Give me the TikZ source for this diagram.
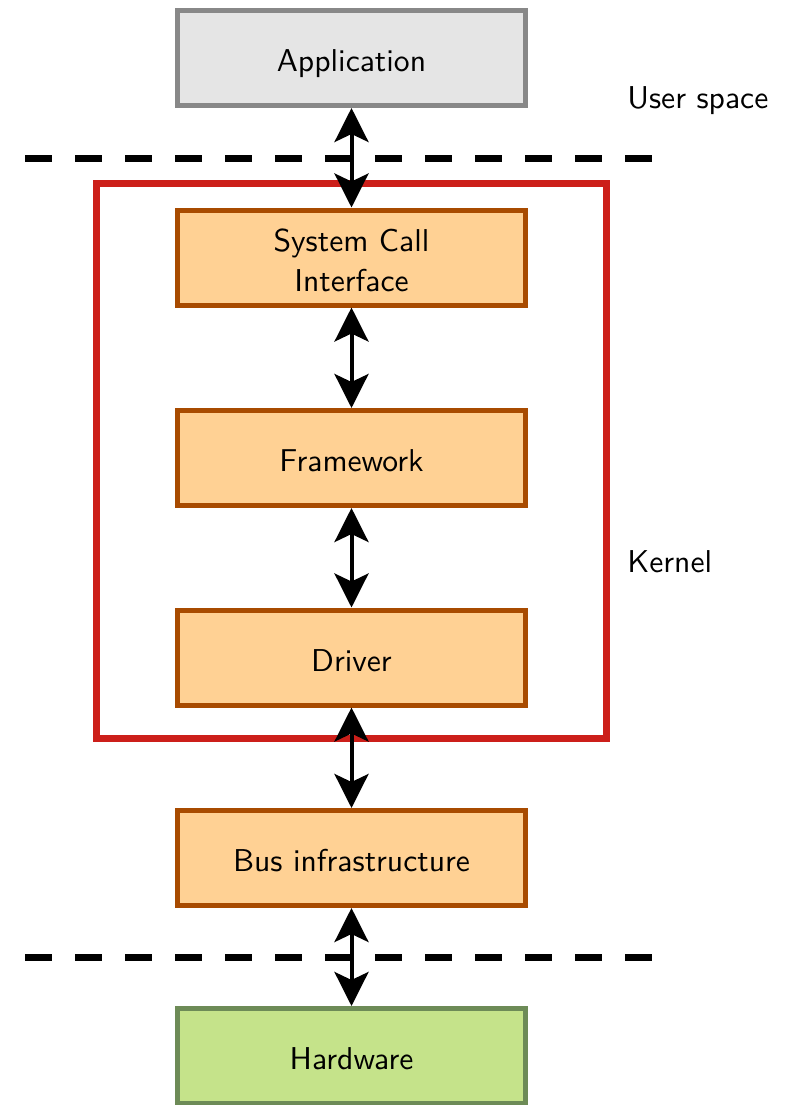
\documentclass[tikz,border=0pt]{standalone}
\usepackage{fontspec}
\usetikzlibrary{arrows.meta}
\newfontfamily\boxfont{lmsans10-regular.otf}
\definecolor{appfill}{HTML}{E5E5E5}
\definecolor{appdraw}{HTML}{888888}
\definecolor{kfill}{HTML}{FFD194}
\definecolor{kdraw}{HTML}{A84B00}
\definecolor{hwfill}{HTML}{C5E38A}
\definecolor{hwdraw}{HTML}{6D8B57}
\definecolor{kred}{HTML}{CC1F1A}
\begin{document}
\begin{tikzpicture}[x=0.5pt,y=-0.5pt,
  font=\boxfont\fontsize{15.8}{20}\selectfont,
  layer/.style={rectangle, minimum width=174pt, minimum height=47.5pt,
    line width=2.5pt, align=center, inner sep=0pt,
    text height=13.7pt, text depth=0pt},
  userbox/.style={layer, fill=appfill, draw=appdraw},
  kernbox/.style={layer, fill=kfill, draw=kdraw},
  hwbox/.style={layer, fill=hwfill, draw=hwdraw},
  twolines/.style={text height=34.2pt, text depth=0pt},
  link/.style={line width=2pt, {Stealth[length=17pt,width=17pt,inset=4pt]}-{Stealth[length=17pt,width=17pt,inset=4pt]}},
  boundary/.style={line width=3.5pt, dash pattern=on 13.5pt off 11.5pt},
  side/.style={anchor=base west, inner sep=0pt}]
\useasboundingbox (0,0) rectangle (785,1105);

% kernel frame
\draw[kred, line width=3.5pt] (96.5,183.5) rectangle (606.5,738.5);

% layers
\node[userbox] (app) at (351.5,58) {Application};
\node[kernbox, twolines] (sci) at (351.5,257.5) {System Call\\Interface};
\node[kernbox] (fw)  at (351.5,458) {Framework};
\node[kernbox] (drv) at (351.5,657.5) {Driver};
\node[kernbox] (bus) at (351.5,858) {Bus infrastructure};
\node[hwbox]   (hw)  at (351.5,1056) {Hardware};

% space boundaries
\coordinate (b1l) at (25,158);
\coordinate (b1r) at (652,158);
\coordinate (b2l) at (25,957);
\coordinate (b2r) at (652,957);
\draw[boundary] (b1l) -- (b1r);
\draw[boundary] (b2l) -- (b2r);

% side labels
\node[side] (us) at (627,108.3) {User space};
\node[side] (kn) at (627,572.7) {Kernel};

% interfaces between layers
\draw[link] (app.south) -- (sci.north);
\draw[link] (sci.south) -- (fw.north);
\draw[link] (fw.south) -- (drv.north);
\draw[link] (drv.south) -- (bus.north);
\draw[link] (bus.south) -- (hw.north);
\end{tikzpicture}
\end{document}
